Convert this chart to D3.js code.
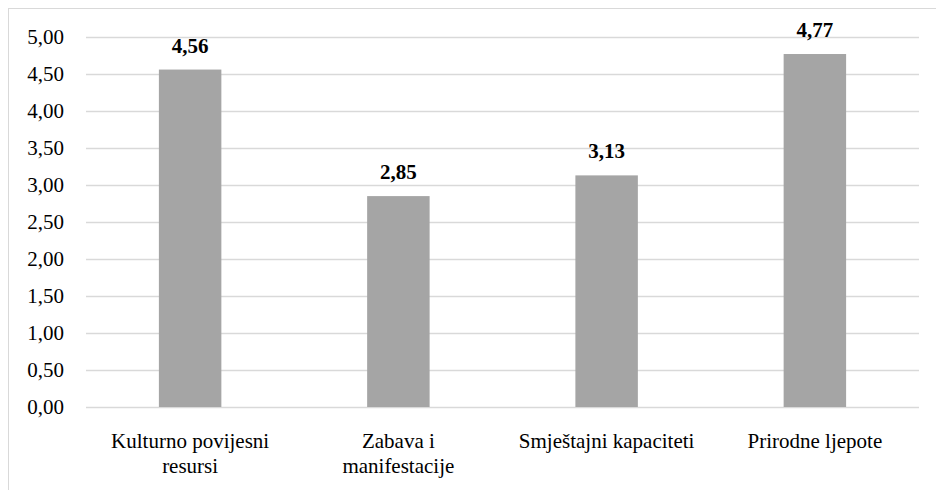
<!DOCTYPE html>
<html>
<head>
<meta charset="utf-8">
<script src="https://cdn.jsdelivr.net/npm/d3@7"></script>
<style>
  html, body { margin: 0; padding: 0; background: #fff; }
  svg { display: block; }
  svg text { font-family: "Liberation Serif", "Times New Roman", serif; }
</style>
</head>
<body>
<svg id="chart" width="936" height="490"></svg>
<script>
const categories = [["Kulturno povijesni", "resursi"], ["Zabava i", "manifestacije"], ["Smještajni kapaciteti"], ["Prirodne ljepote"]];
const values = [4.56, 2.85, 3.13, 4.77];
const tickValues = [0, 0.5, 1, 1.5, 2, 2.5, 3, 3.5, 4, 4.5, 5];

const FONT = "Liberation Serif";
const FS = "21px";
const fmt = v => v.toFixed(2).replace(".", ",");
const svg = d3.select("#chart").style("font-family", FONT);
const W = 936, H = 490;
const m = { left: 86, right: 17, top: 37, bottom: 83 };

svg.append("rect").attr("x", 8.5).attr("y", 8.5).attr("width", 940).attr("height", 500)
  .attr("fill", "none").attr("stroke", "#d9d9d9").attr("stroke-width", 1);

const x = d3.scaleBand().domain(categories.map((d, i) => i)).range([m.left, W - m.right]).paddingInner(0.7).paddingOuter(0.35);
const y = d3.scaleLinear().domain([0, 5]).range([H - m.bottom, m.top]);

const yAxis = svg.append("g").attr("transform", `translate(${m.left},0)`)
  .call(d3.axisLeft(y).tickValues(tickValues).tickFormat(fmt).tickSize(-(W - m.left - m.right)).tickPadding(22));
yAxis.attr("font-family", null).attr("font-size", null);
yAxis.select(".domain").remove();
yAxis.selectAll(".tick line").attr("stroke", "#d9d9d9").attr("stroke-width", 1.5);
yAxis.selectAll(".tick text").style("font-size", FS).style("font-family", FONT).attr("fill", "#000");

svg.selectAll("rect.bar").data(values).enter().append("rect").attr("class", "bar")
  .attr("x", (d, i) => x(i)).attr("width", x.bandwidth())
  .attr("y", d => y(d)).attr("height", d => y(0) - y(d)).attr("fill", "#a5a5a5");

svg.selectAll("text.val").data(values).enter().append("text").attr("class", "val")
  .style("font-family", FONT)
  .attr("x", (d, i) => x(i) + x.bandwidth() / 2).attr("y", d => y(d) - 17)
  .attr("text-anchor", "middle").style("font-weight", "bold").style("font-size", FS).text(fmt);

const cat = svg.selectAll("text.cat").data(categories).enter().append("text").attr("class", "cat")
  .style("font-family", FONT)
  .attr("text-anchor", "middle").style("font-size", FS)
  .attr("x", (d, i) => x(i) + x.bandwidth() / 2).attr("y", 448);
cat.selectAll("tspan").data(d => d).enter().append("tspan")
  .attr("x", function () { return d3.select(this.parentNode).attr("x"); })
  .attr("dy", (d, i) => i === 0 ? 0 : 25).text(d => d);
</script>
</body>
</html>
